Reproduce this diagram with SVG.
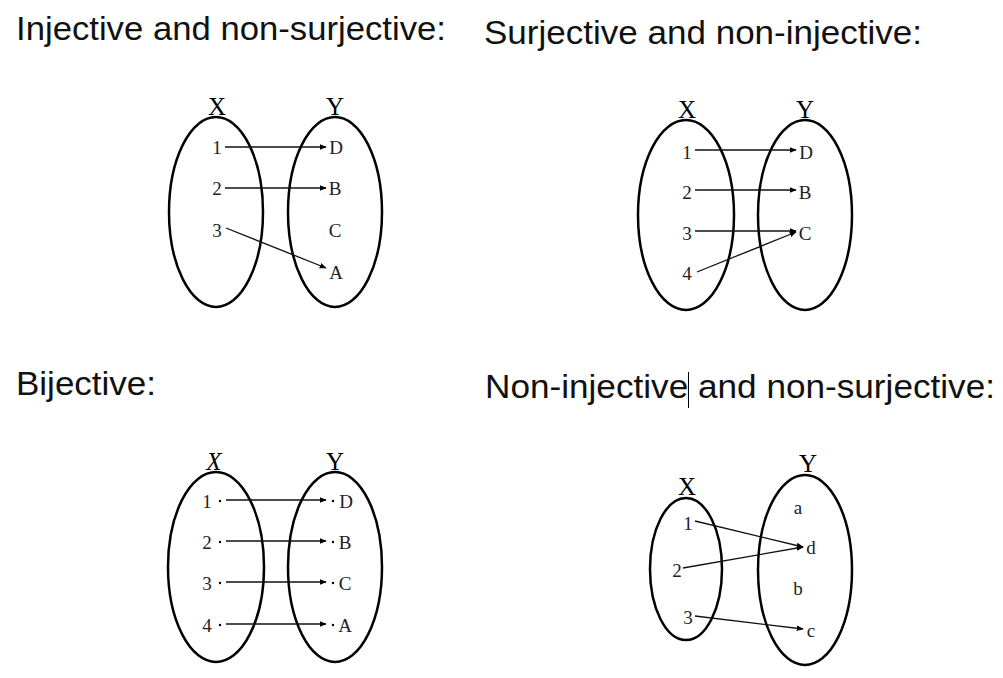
<svg xmlns="http://www.w3.org/2000/svg" width="1003" height="678" viewBox="0 0 1003 678">
<style>
.h{font-family:"Liberation Sans","DejaVu Sans",sans-serif;font-size:33px;fill:#111}
.set{font-family:"Liberation Serif","DejaVu Serif",serif;font-size:25px;fill:#000;text-anchor:middle}
.l{font-family:"Liberation Serif","DejaVu Serif",serif;font-size:19px;fill:#222;text-anchor:middle;dominant-baseline:central}
.e{fill:none;stroke:#000;stroke-width:2.5}
.c{fill:none;stroke:#111;stroke-width:1.3;marker-end:url(#ah)}
</style>
<defs>
<marker id="ah" viewBox="0 0 10 10" refX="9" refY="5" markerWidth="7" markerHeight="7" markerUnits="userSpaceOnUse" orient="auto">
<path d="M0,1 L10,5 L0,9 z" fill="#000"/>
</marker>
</defs>
<rect width="1003" height="678" fill="#fff"/>
<g id="headings">
<text class="h" x="16" y="40" textLength="430" lengthAdjust="spacingAndGlyphs">Injective and non-surjective:</text>
<text class="h" x="484" y="44" textLength="438" lengthAdjust="spacingAndGlyphs">Surjective and non-injective:</text>
<text class="h" x="16" y="395" textLength="140" lengthAdjust="spacingAndGlyphs">Bijective:</text>
<text class="h" x="485" y="398" textLength="510" lengthAdjust="spacingAndGlyphs">Non-injective and non-surjective:</text>
<line x1="688.5" y1="372" x2="688.5" y2="408" stroke="#000" stroke-width="1"/>
</g>
<g id="panel1">
<g id="p1-X"><ellipse class="e" cx="216" cy="212" rx="47" ry="95"/><text class="set" x="217" y="115">X</text>
<text class="l" x="217" y="147">1</text><text class="l" x="217" y="188">2</text><text class="l" x="217" y="230">3</text></g>
<g id="p1-Y"><ellipse class="e" cx="335" cy="212" rx="47" ry="95"/><text class="set" x="335" y="115">Y</text>
<text class="l" x="336" y="147">D</text><text class="l" x="335" y="188">B</text><text class="l" x="335" y="230">C</text><text class="l" x="336" y="272">A</text></g>
</g>
<g id="panel2">
<g id="p2-X"><ellipse class="e" cx="686" cy="215" rx="48" ry="95"/><text class="set" x="687" y="118">X</text>
<text class="l" x="687" y="152">1</text><text class="l" x="687" y="192">2</text><text class="l" x="687" y="233">3</text><text class="l" x="687" y="273">4</text></g>
<g id="p2-Y"><ellipse class="e" cx="805" cy="215" rx="47" ry="95"/><text class="set" x="805" y="118">Y</text>
<text class="l" x="806" y="152">D</text><text class="l" x="805" y="192">B</text><text class="l" x="805" y="233">C</text></g>
</g>
<g id="panel3">
<g id="p3-X"><ellipse class="e" cx="216" cy="567" rx="48" ry="95"/><text class="set" x="214" y="470" font-style="italic">X</text>
<text class="l" x="207" y="501">1</text><text class="l" x="207" y="542">2</text><text class="l" x="207" y="583">3</text><text class="l" x="207" y="625">4</text>
<g fill="#000"><circle cx="220" cy="501" r="1.2"/><circle cx="220" cy="542" r="1.2"/><circle cx="220" cy="583" r="1.2"/><circle cx="220" cy="625" r="1.2"/></g></g>
<g id="p3-Y"><ellipse class="e" cx="335" cy="567" rx="47" ry="95"/><text class="set" x="335" y="470">Y</text>
<text class="l" x="346" y="501">D</text><text class="l" x="345" y="542">B</text><text class="l" x="345" y="583">C</text><text class="l" x="345" y="625">A</text>
<g fill="#000"><circle cx="333" cy="501" r="1.2"/><circle cx="333" cy="542" r="1.2"/><circle cx="333" cy="583" r="1.2"/><circle cx="333" cy="625" r="1.2"/></g></g>
</g>
<g id="panel4">
<g id="p4-X"><ellipse class="e" cx="686" cy="569" rx="36" ry="71"/><text class="set" x="687" y="495">X</text>
<text class="l" x="688" y="523">1</text><text class="l" x="677" y="570">2</text><text class="l" x="688" y="617">3</text></g>
<g id="p4-Y"><ellipse class="e" cx="805" cy="570" rx="47" ry="95"/><text class="set" x="808" y="472">Y</text>
<text class="l" x="798" y="507">a</text><text class="l" x="811" y="547">d</text><text class="l" x="798" y="588">b</text><text class="l" x="811" y="630">c</text></g>
</g>
<g id="connectors">
<line class="c" x1="225" y1="147" x2="326" y2="147"/>
<line class="c" x1="225" y1="188" x2="326" y2="188"/>
<line class="c" x1="226" y1="228" x2="326" y2="268"/>
<line class="c" x1="695" y1="150" x2="796" y2="150"/>
<line class="c" x1="695" y1="190" x2="796" y2="190"/>
<line class="c" x1="695" y1="231" x2="796" y2="231"/>
<line class="c" x1="697" y1="272" x2="796" y2="232"/>
<line class="c" x1="226" y1="500" x2="326" y2="500"/>
<line class="c" x1="226" y1="541" x2="326" y2="541"/>
<line class="c" x1="226" y1="582" x2="326" y2="582"/>
<line class="c" x1="226" y1="624" x2="326" y2="624"/>
<line class="c" x1="695" y1="521" x2="803" y2="547"/>
<line class="c" x1="683" y1="568" x2="803" y2="547"/>
<line class="c" x1="695" y1="616" x2="803" y2="629"/>
</g>
</svg>
